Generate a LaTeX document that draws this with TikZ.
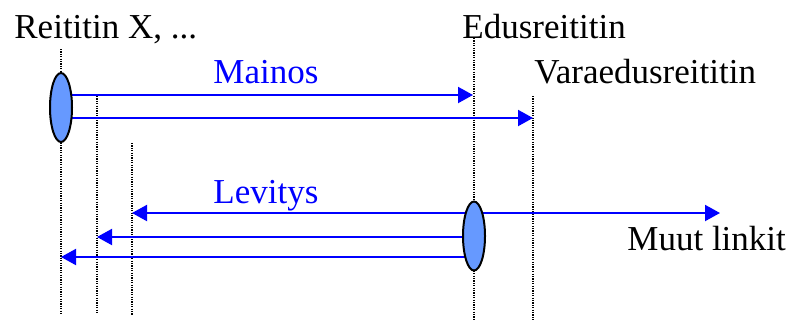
\documentclass[tikz,border=0pt]{standalone}
\usepackage{fontspec}
\setmainfont{Liberation Serif}
\usepackage{xcolor}
\usetikzlibrary{arrows.meta, positioning, shapes.geometric, backgrounds}
\definecolor{msgblue}{RGB}{0,0,255}
\definecolor{portfill}{RGB}{102,153,255}

\begin{document}
\begin{tikzpicture}[
  x=0.5pt, y=-0.5pt,
  port/.style={
    ellipse, draw=black, fill=portfill, line width=1pt,
    minimum width=11pt, minimum height=34.5pt, inner sep=0pt
  },
  lifeline/.style={black, line width=0.9pt, dash pattern=on 0.6pt off 0.6pt},
  msg/.style={-{Triangle[length=7.5pt, width=8pt]}, msgblue, line width=1pt},
  txt/.style={anchor=base west, inner sep=0pt, font=\fontsize{17.5}{20}\selectfont},
  msglabel/.style={txt, text=msgblue}
]
\useasboundingbox (0,0) rectangle (801,322);

% Routers (labels above their lifelines)
\node[txt] (rx)   at (14,38)  {Reititin X, ...};
\node[txt] (edus) at (462,38) {Edusreititin};
\node[txt] (vara) at (534,83) {Varaedusreititin};
\node[txt] (muut) at (627,250) {Muut linkit};

% Interfaces
\node[port] (ifx)  at (61,107.5) {};
\node[port] (ifed) at (474,236)  {};

% Arrow end points
\coordinate (tA) at (473,95);
\coordinate (tB) at (533,118);
\coordinate (tC) at (132,213);
\coordinate (tD) at (720,213);
\coordinate (tE) at (97,237);
\coordinate (tF) at (61,257);

\begin{scope}[on background layer]
  % Lifelines
  \foreach \x/\ytop/\ybot in {61/49/315, 97/96/313, 132/143/315, 474/38/320, 533/96/320}
    \draw[lifeline] (\x,\ytop) -- (\x,\ybot);

  % Advertisement
  \draw[msg] (ifx.center |- tA) -- (tA);
  \draw[msg] (ifx.center |- tB) -- (tB);

  % Flooding
  \draw[msg] (ifed.center |- tC) -- (tC);
  \draw[msg] (ifed.center |- tD) -- (tD);
  \draw[msg] (ifed.center |- tE) -- (tE);
  \draw[msg] (ifed.center |- tF) -- (tF);
\end{scope}

% Message labels
\node[msglabel] (mainos)  at (213,83)  {Mainos};
\node[msglabel] (levitys) at (213,203) {Levitys};

\end{tikzpicture}
\end{document}
